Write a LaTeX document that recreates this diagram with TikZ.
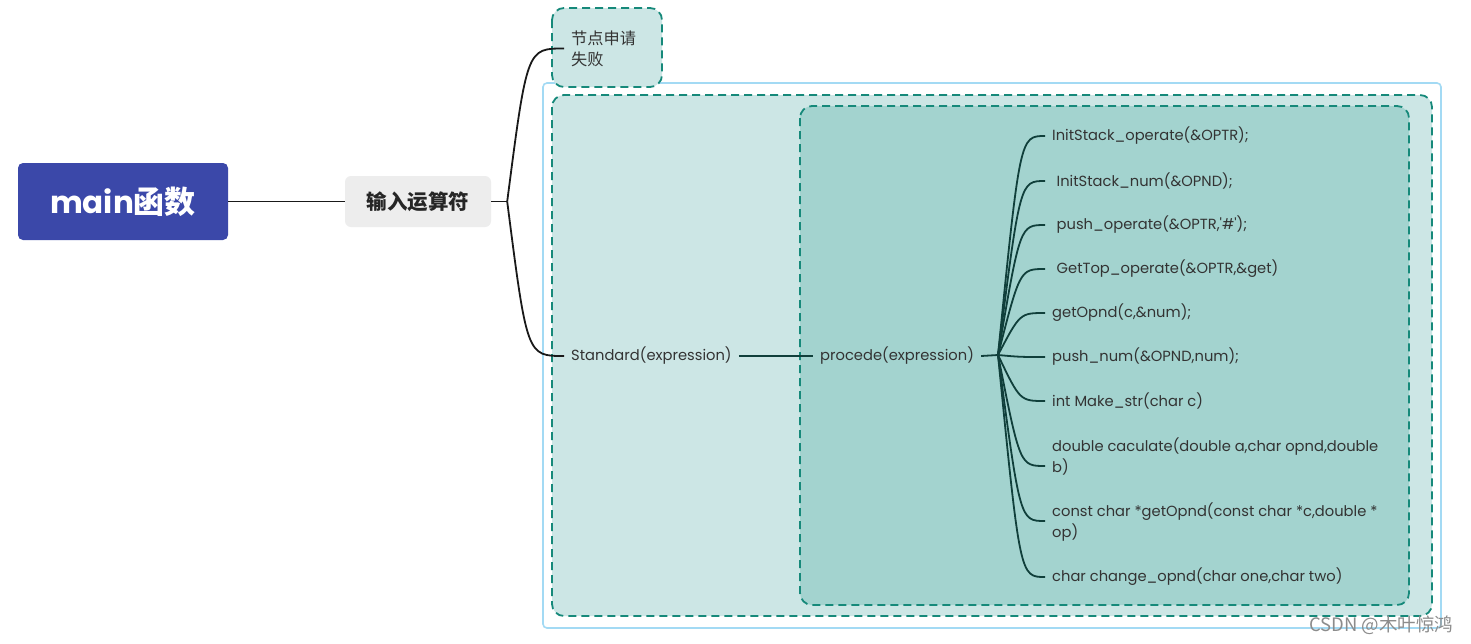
\documentclass[tikz,border=0pt]{standalone}
\usepackage{fontspec}
\setmainfont{Poppins}[Ligatures=TeXOff]
\newfontfamily\cjk{Noto Sans CJK SC}
\definecolor{mainblue}{HTML}{3B48A9}
\definecolor{grayfill}{HTML}{EDEDED}
\definecolor{dashteal}{HTML}{16897A}
\definecolor{fillA}{HTML}{CCE6E5}
\definecolor{fillB}{HTML}{A3D3CF}
\definecolor{skyline}{HTML}{A3DAF4}
\definecolor{txt}{HTML}{333333}
\definecolor{branch}{HTML}{103F3B}
\begin{document}
\begin{tikzpicture}[x=1pt,y=-1pt,
  lbl/.style={anchor=west,inner xsep=7pt,inner ysep=1pt,text=txt,font=\fontsize{14.7}{21}\selectfont},
  dbox/.style={draw=dashteal,line width=1.8pt,dash pattern=on 8pt off 5pt,rounded corners=12pt},
  conn/.style={draw=black!90,line width=1.8pt},
  bconn/.style={draw=branch,line width=1.8pt}]
\useasboundingbox (0,0) rectangle (1471,643);
\fill[white] (0,0) rectangle (1471,643);
% containers
\draw[skyline,line width=1.6pt,rounded corners=4pt] (543,83) rectangle (1441,628);
\path[dbox,fill=fillA] (552,95) rectangle (1432,616);
\path[dbox,fill=fillB] (800,106) rectangle (1409,605);
\path[dbox,fill=fillA] (552,8) rectangle (662,87);
% main nodes
\node[fill=mainblue,rounded corners=5pt,minimum width=210pt,minimum height=77pt,text=white,font=\bfseries\fontsize{31}{34}\selectfont] (main) at (123,201.5) {main{\cjk 函数}};
\node[fill=grayfill,rounded corners=6pt,minimum width=146pt,minimum height=51pt,text=black!85,font=\cjk\bfseries\fontsize{20.5}{22}\selectfont] (inp) at (418,201.5) {输入运算符};
\node[lbl,align=left,font=\cjk\fontsize{16.2}{21}\selectfont] (fail) at (564,48.5) {节点申请\\失败};
\node[lbl] (std) at (564,356) {Standard(expression)};
\node[lbl] (proc) at (813,356) {procede(expression)};
\coordinate (root) at (998,355);
% children
\node[lbl] (c1) at (1045,136) {InitStack\_operate(\&OPTR);};
\node[lbl] (c2) at (1045,181) {\hspace{4.5pt}InitStack\_num(\&OPND);};
\node[lbl] (c3) at (1045,225) {\hspace{4.5pt}push\_operate(\&OPTR,'\#');};
\node[lbl] (c4) at (1045,269) {\hspace{4.5pt}GetTop\_operate(\&OPTR,\&get)};
\node[lbl] (c5) at (1045,313) {getOpnd(c,\&num);};
\node[lbl] (c6) at (1045,357) {push\_num(\&OPND,num);};
\node[lbl] (c7) at (1045,401) {int Make\_str(char c)};
\node[lbl,align=left] (c8) at (1045,456.5) {double caculate(double a,char opnd,double\\b)};
\node[lbl,align=left] (c9) at (1045,522.5) {const char *getOpnd(const char *c,double *\\op)};
\node[lbl] (c10) at (1045,577) {char change\_opnd(char one,char two)};
% connectors
\draw[conn] (main.east) -- (inp.west);
\draw[conn] (inp.east) -- ++(16pt,0) coordinate (j1);
\draw[conn] (j1) .. controls (527,48.5) .. (fail.west);
\draw[conn] (j1) .. controls (527,356) .. (std.west);
\draw[bconn] (std.east) -- (proc.west);
\draw[bconn] (proc.east) -- (root);
\foreach \c/\yy in {c1/136,c2/181,c3/225,c4/269,c5/313,c7/401,c10/577}
  \draw[bconn] (root) .. controls (1020,\yy) .. (\c.west);
\draw[bconn] (root) .. controls (1020,357) .. (c6.west);
\draw[bconn] (root) .. controls (1020,466) .. (1045,466);
\draw[bconn] (root) .. controls (1020,521) .. (1045,521);
% watermark
\node[anchor=east,text=black!45,font=\cjk\fontsize{18.5}{20}\selectfont] (wm) at (1457,625) {CSDN @木叶惊鸿};
\end{tikzpicture}
\end{document}
